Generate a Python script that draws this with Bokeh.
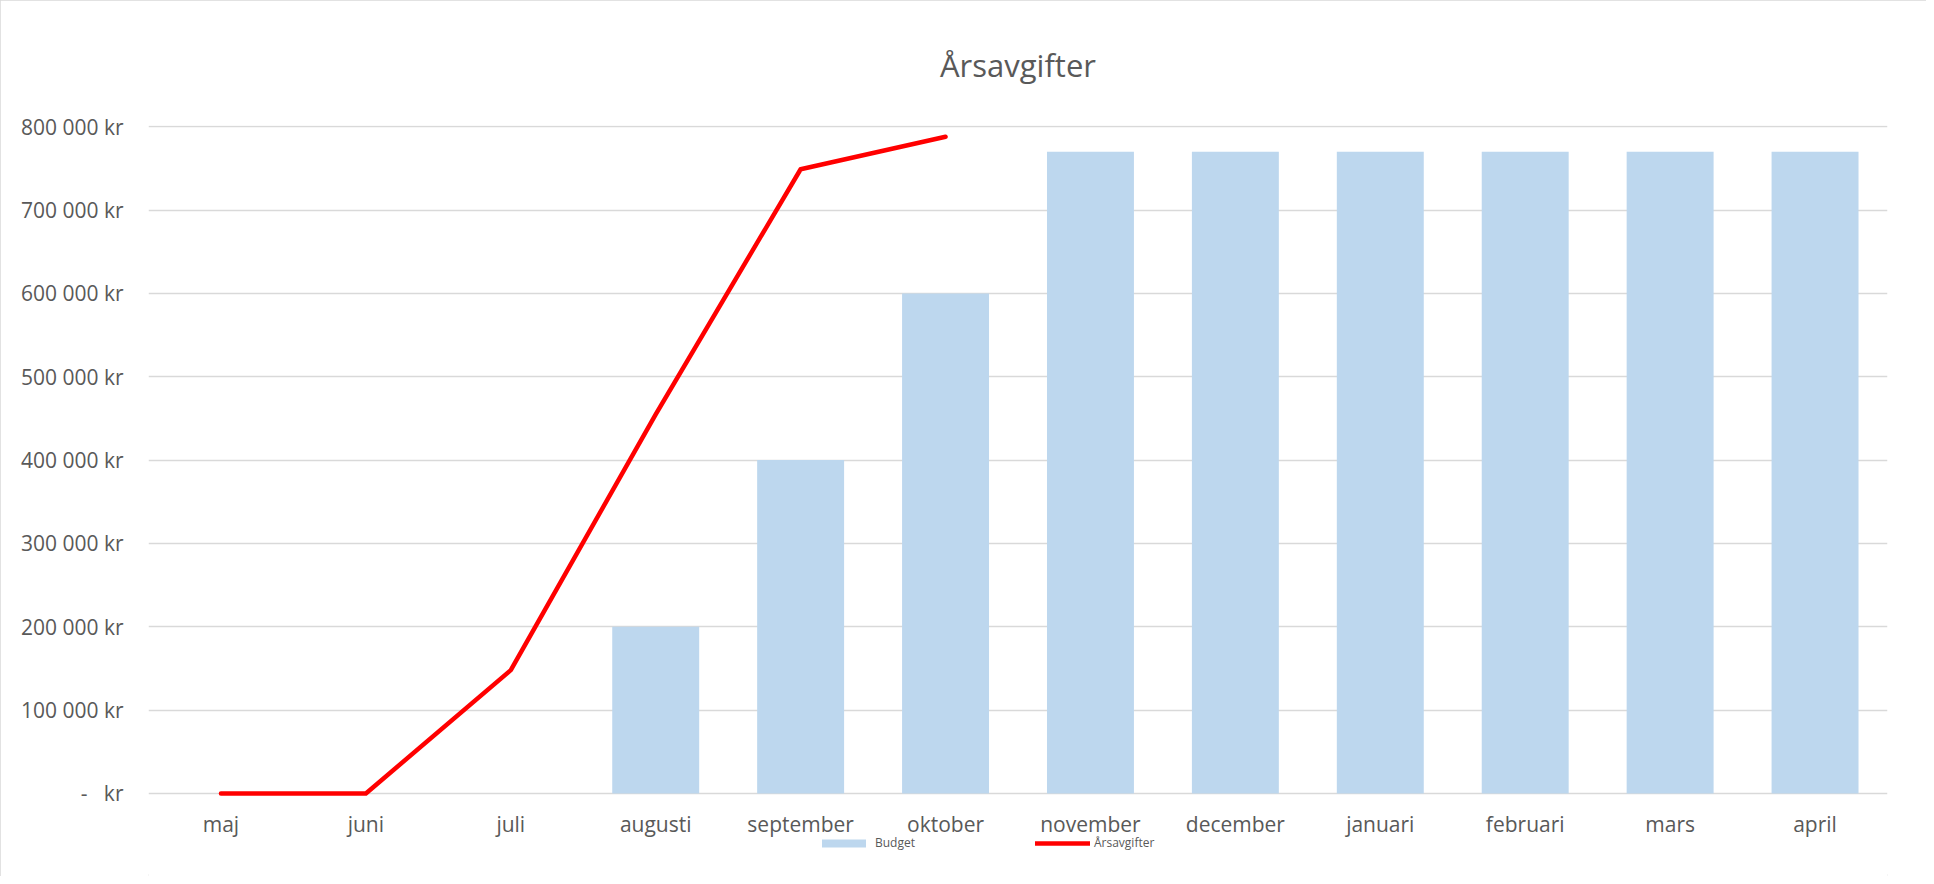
from bokeh.plotting import figure
from bokeh.models import ColumnDataSource, Legend, LegendItem, FixedTicker, Range1d
from bokeh.embed import file_html
from bokeh.resources import INLINE

months = ["maj", "juni", "juli", "augusti", "september", "oktober",
          "november", "december", "januari", "februari", "mars", "april"]
budget = [0, 0, 0, 200000, 400000, 600000, 770000, 770000, 770000, 770000, 770000, 770000]
line_months = ["maj", "juni", "juli", "augusti", "september", "oktober"]
arsavgifter = [0, 0, 148000, 455000, 749000, 788000]
y_ticks = [0, 100000, 200000, 300000, 400000, 500000, 600000, 700000, 800000]
y_tick_labels = ["-\u00a0\u00a0\u00a0kr", "100 000 kr", "200 000 kr", "300 000 kr", "400 000 kr",
                 "500 000 kr", "600 000 kr", "700 000 kr", "800 000 kr"]

FONT = "Open Sans"
TXT = "#595959"

# frame extends below the zero line so that the axis labels and legend sit inside it
p = figure(x_range=months, y_range=Range1d(-99600, 801500),
           frame_width=1739, frame_height=751,
           output_backend="svg", toolbar_location=None,
           min_border_left=148, min_border_right=39, min_border_top=125, min_border_bottom=0,
           title="Årsavgifter")
p.styles = {"outline": "2px solid #D9D9D9", "outline-offset": "-2px"}

p.title.align = "center"
p.title.text_font = FONT
p.title.text_font_size = "31px"
p.title.text_font_style = "normal"
p.title.text_color = TXT
p.title.standoff = 79

p.outline_line_color = None
p.background_fill_color = "white"
p.border_fill_color = "white"

bars = p.vbar(x=months, top=budget, width=0.6, color="#BDD7EE", line_color=None)
ln = p.line(x=line_months, y=arsavgifter, line_color="#FF0000", line_width=4.5,
            line_cap="round", line_join="round")

p.yaxis.ticker = FixedTicker(ticks=y_ticks)
p.yaxis.major_label_overrides = {t: l for t, l in zip(y_ticks, y_tick_labels)}
for ax in (p.xaxis[0], p.yaxis[0]):
    ax.axis_line_color = None
    ax.major_tick_line_color = None
    ax.minor_tick_line_color = None
    ax.major_tick_out = 0
    ax.major_tick_in = 0
    ax.major_label_text_font = FONT
    ax.major_label_text_font_size = "21px"
    ax.major_label_text_color = TXT
p.yaxis.major_label_standoff = 25
p.xaxis.major_label_standoff = 17
p.xaxis.fixed_location = 0

p.xgrid.grid_line_color = None
p.ygrid.grid_line_color = "#D9D9D9"
p.ygrid.grid_line_width = 1.5

legend = Legend(items=[LegendItem(label="Budget", renderers=[bars]),
                       LegendItem(label="Årsavgifter", renderers=[ln])],
                orientation="horizontal", location=(668, 25),
                glyph_width=55, glyph_height=10, spacing=120,
                label_text_font=FONT, label_text_font_size="12px", label_text_color=TXT,
                label_standoff=4, padding=0, margin=0, border_line_color=None,
                background_fill_alpha=0)
p.add_layout(legend, "center")

open("out.html", "w").write(file_html(p, INLINE))
